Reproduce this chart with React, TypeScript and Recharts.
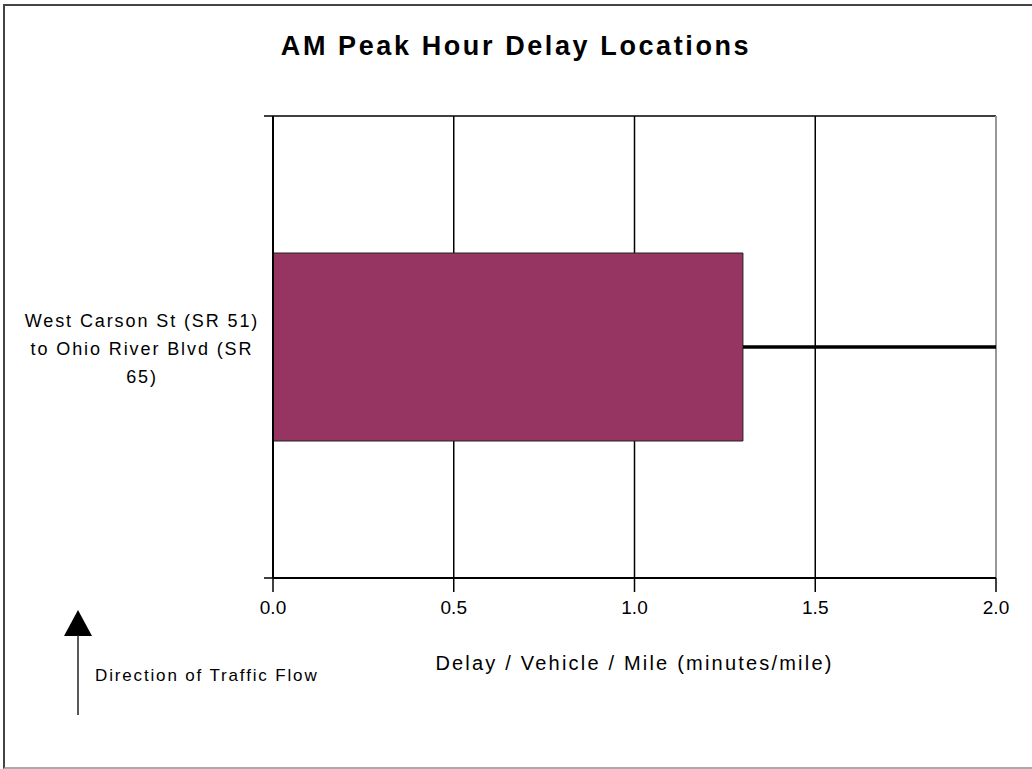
import {
  BarChart,
  Bar,
  XAxis,
  YAxis,
  CartesianGrid,
  ReferenceLine,
  ErrorBar,
  Label,
} from 'recharts';

const categories = ['West Carson St (SR 51) to Ohio River Blvd (SR 65)'];
const categoryLines = [['West Carson St (SR 51)', 'to Ohio River Blvd (SR', '65)']];
const delayValues = [1.3];
const delayPlus = [0.7];
const xTicks = [0, 0.5, 1.0, 1.5, 2.0];

const data = categories.map((name, i) => ({
  name,
  delay: delayValues[i],
  err: [0, delayPlus[i]],
}));

const font = '"Liberation Sans", Arial, sans-serif';

// category label plus the tick marks at the band edges
const CategoryTick = (props: any) => {
  const { x, y, index, payload } = props;
  const lines = categoryLines[index] || [];
  const half = payload && payload.offset ? payload.offset : 0;
  return (
    <g>
      {half > 0 && (
        <>
          <line x1={x} x2={x - 9} y1={y - half} y2={y - half} stroke="#000" strokeWidth={1.5} />
          <line x1={x} x2={x - 9} y1={y + half} y2={y + half} stroke="#000" strokeWidth={1.5} />
        </>
      )}
      <text
        x={x - 131}
        y={y}
        textAnchor="middle"
        fontFamily={font}
        fontSize={18}
        letterSpacing={1.9}
        fill="#000"
      >
        {lines.map((l, i) => (
          <tspan key={i} x={x - 131} y={y + (i - 1) * 28 + 8}>
            {l}
          </tspan>
        ))}
      </text>
    </g>
  );
};

const App = () => {
  return (
    <div
      style={{
        position: 'absolute',
        left: 0,
        top: 0,
        width: 1032,
        height: 769,
        background: '#fff',
        fontFamily: font,
      }}
    >
      <div
        style={{
          position: 'absolute',
          left: 3,
          top: 4,
          width: 1027,
          height: 761,
          borderLeft: '2px solid #444',
          borderTop: '2px solid #444',
          borderBottom: '2px solid #aaa',
        }}
      />
      <div
        style={{
          position: 'absolute',
          left: 0,
          top: 31,
          width: 1032,
          textAlign: 'center',
          fontSize: 27,
          fontWeight: 'bold',
          letterSpacing: 2.6,
        }}
      >
        AM Peak Hour Delay Locations
      </div>
      <BarChart
        width={1032}
        height={769}
        data={data}
        layout="vertical"
        margin={{ top: 116, right: 36, left: 10, bottom: 91 }}
        style={{ position: 'absolute', left: 0, top: 0 }}
      >
        <CartesianGrid
          stroke="#000"
          strokeWidth={1.5}
          horizontalCoordinatesGenerator={(p: any) => [p && p.offset ? p.offset.top : 116]}
        />
        <ReferenceLine x={2} stroke="#999" strokeWidth={2} />
        <YAxis
          type="category"
          dataKey="name"
          width={263}
          tickLine={false}
          axisLine={{ stroke: '#000', strokeWidth: 2 }}
          tickSize={0}
          tickMargin={0}
          tick={<CategoryTick />}
        />
        <XAxis
          type="number"
          domain={[0, 2]}
          ticks={xTicks}
          tickFormatter={(v: number) => v.toFixed(1)}
          tickSize={14}
          tickMargin={9}
          height={100}
          axisLine={{ stroke: '#000', strokeWidth: 2 }}
          tickLine={{ stroke: '#000', strokeWidth: 1.5 }}
          tick={{ fill: '#000', fontSize: 19, fontFamily: font }}
        >
          <Label
            value="Delay / Vehicle / Mile (minutes/mile)"
            position="insideTop"
            offset={78}
            style={{ fontSize: 20, fontFamily: font, fill: '#000', letterSpacing: 2.2 }}
          />
        </XAxis>
        <Bar
          dataKey="delay"
          fill="#963462"
          stroke="#222"
          strokeWidth={1}
          barSize={188}
          isAnimationActive={false}
        >
          <ErrorBar
            dataKey="err"
            direction="x"
            width={0}
            stroke="#000"
            strokeWidth={3.5}
            isAnimationActive={false}
          />
        </Bar>
      </BarChart>
      <svg
        width={60}
        height={120}
        style={{ position: 'absolute', left: 48, top: 605 }}
      >
        <polygon points="30,5 16,31 44,31" fill="#000" />
        <line x1={30} y1={30} x2={30} y2={110} stroke="#222" strokeWidth={1.5} />
      </svg>
      <div
        style={{
          position: 'absolute',
          left: 95,
          top: 666,
          fontSize: 17,
          letterSpacing: 1.85,
        }}
      >
        Direction of Traffic Flow
      </div>
    </div>
  );
};

export default App;
